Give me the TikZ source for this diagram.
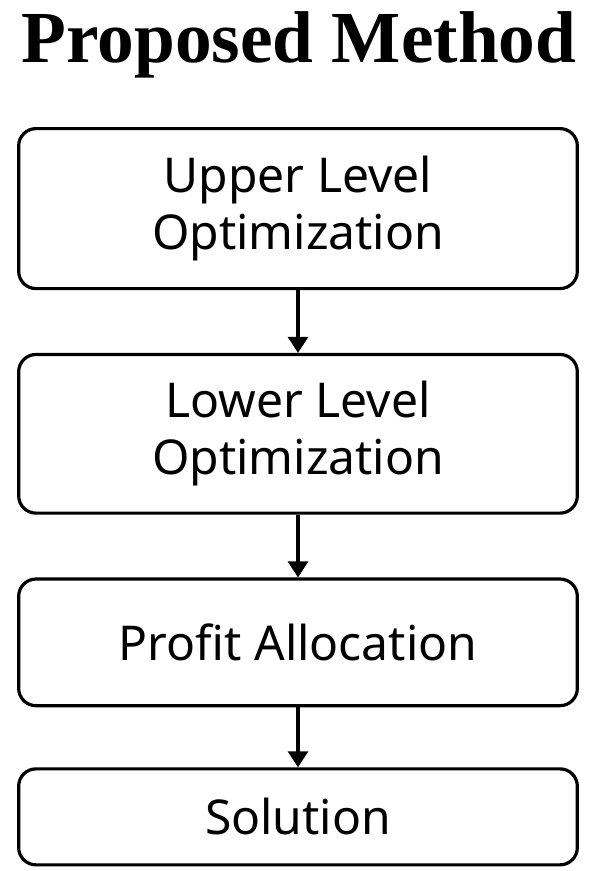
\documentclass[tikz,border=0pt]{standalone}
\usepackage{fontspec}
\setmainfont{Liberation Serif}
\newfontfamily\boxfont{Noto Sans}
\usetikzlibrary{positioning,arrows.meta}
\tikzset{
  stagebox/.style={draw=black, line width=2.4pt, rounded corners=13pt, fill=white,
    minimum width=419pt, align=center, font=\boxfont\fontsize{36}{43}\selectfont},
  flowarrow/.style={-{Triangle[length=12pt,width=15pt]}, line width=2.3pt}
}
\begin{document}
\begin{tikzpicture}[x=0.75pt, y=-0.75pt, node distance=47pt]
        \useasboundingbox (0,0) rectangle (590,871);
        \node[anchor=base, font=\bfseries\fontsize{55}{60}\selectfont] (title) at (299,62) {Proposed Method};
        \node[stagebox, minimum height=120pt, anchor=north] (upper) at (298,127) {Upper Level\\Optimization};
        \node[stagebox, minimum height=119pt, below=of upper] (lower) {Lower Level\\Optimization};
        \node[stagebox, minimum height=95pt, below=of lower] (profit) {Profit Allocation};
        \node[stagebox, minimum height=72pt, below=45pt of profit] (sol) {Solution};
        \draw[flowarrow] (upper) -- (lower);
        \draw[flowarrow] (lower) -- (profit);
        \draw[flowarrow] (profit) -- (sol);
      \end{tikzpicture}
\end{document}
